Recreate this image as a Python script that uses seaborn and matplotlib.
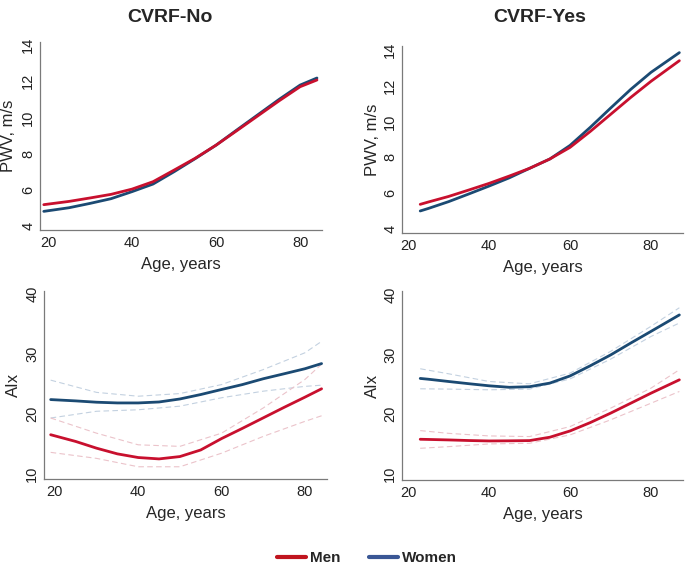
"""PWV and AIx by age, men vs women, split by CVRF status."""

import matplotlib.pyplot as plt
from matplotlib.lines import Line2D
import pandas as pd
import seaborn as sns

# ---- PWV, CVRF-No ----
age_no = [19, 25, 30, 35, 40, 45, 50, 55, 60, 65, 70, 75, 80, 84]
pwv_no_men = [5.18, 5.36, 5.55, 5.75, 6.04, 6.45, 7.09, 7.74, 8.47, 9.28, 10.10, 10.92, 11.70, 12.07]
pwv_no_women = [4.81, 5.01, 5.25, 5.51, 5.90, 6.32, 7.00, 7.72, 8.47, 9.32, 10.16, 11.00, 11.79, 12.18]

# ---- PWV, CVRF-Yes ----
age_yes = [23, 25, 30, 35, 40, 45, 50, 55, 60, 65, 70, 75, 80, 87]
pwv_yes_men = [5.38, 5.51, 5.82, 6.18, 6.55, 6.96, 7.39, 7.91, 8.56, 9.45, 10.40, 11.35, 12.25, 13.40]
pwv_yes_women = [5.01, 5.15, 5.53, 5.96, 6.40, 6.86, 7.39, 7.91, 8.67, 9.68, 10.75, 11.80, 12.75, 13.85]

# ---- AIx, CVRF-No ----
aix_no_men = [16.54, 15.42, 14.30, 13.35, 12.74, 12.51, 12.90, 14.00, 15.90, 17.60, 19.35, 21.10, 22.80, 24.20]
aix_no_women = [22.40, 22.18, 21.96, 21.84, 21.84, 22.00, 22.50, 23.24, 24.08, 24.90, 25.87, 26.70, 27.54, 28.40]
ci_age_no = [19, 30, 40, 50, 60, 70, 80, 84]
aix_no_men_hi = [19.33, 16.8, 14.86, 14.6, 16.8, 21.0, 25.75, 28.3]
aix_no_men_lo = [13.6, 12.6, 11.2, 11.2, 13.46, 16.26, 18.77, 19.7]
aix_no_women_hi = [25.64, 23.6, 22.96, 23.4, 24.9, 27.4, 30.2, 32.1]
aix_no_women_lo = [19.33, 20.45, 20.7, 21.3, 22.7, 23.8, 24.6, 24.8]

# ---- AIx, CVRF-Yes ----
aix_yes_men = [15.81, 15.78, 15.70, 15.60, 15.53, 15.55, 15.59, 16.15, 17.20, 18.60, 20.17, 21.84, 23.52, 25.75]
aix_yes_women = [25.98, 25.85, 25.47, 25.10, 24.75, 24.50, 24.60, 25.20, 26.40, 28.10, 29.90, 31.90, 33.85, 36.60]
ci_age_yes = [23, 30, 40, 50, 60, 70, 80, 87]
aix_yes_men_hi = [17.26, 16.8, 16.37, 16.26, 17.93, 21.0, 24.36, 27.43]
aix_yes_men_lo = [14.3, 14.58, 15.03, 15.14, 16.54, 19.05, 21.84, 23.8]
aix_yes_women_hi = [27.6, 26.76, 25.47, 25.08, 26.87, 30.5, 34.7, 37.8]
aix_yes_women_lo = [24.25, 24.2, 24.08, 24.2, 25.9, 29.2, 33.0, 35.25]

RED = "#c8102e"
BLUE = "#1b4a73"
RED_CI = "#ebc3ca"
BLUE_CI = "#c3d1e0"

sns.set_style("white")
plt.rcParams["font.family"] = ["Liberation Sans", "DejaVu Sans"]

fig = plt.figure(figsize=(6.85, 5.65), dpi=100)
W, H = 685, 565


def add_axes(left, right, top, bottom):
    return fig.add_axes([left / W, 1 - bottom / H, (right - left) / W, (bottom - top) / H])


ax1 = add_axes(40, 322, 42, 230)
ax2 = add_axes(402, 683, 46, 233)
ax3 = add_axes(44, 327, 291, 479)
ax4 = add_axes(402, 683, 291, 480)


def draw(ax, x, y, color, lw=2.0, dashed=False):
    df = pd.DataFrame({"age": x, "val": y})
    sns.lineplot(data=df, x="age", y="val", color=color, linewidth=lw,
                 estimator=None, sort=False, ax=ax,
                 linestyle=(0, (5, 3)) if dashed else "-",
                 solid_joinstyle="round")


# CI dashed lines first so main curves sit on top
for ax, xa, series in [
    (ax3, ci_age_no, [(aix_no_women_hi, BLUE_CI), (aix_no_women_lo, BLUE_CI),
                      (aix_no_men_hi, RED_CI), (aix_no_men_lo, RED_CI)]),
    (ax4, ci_age_yes, [(aix_yes_women_hi, BLUE_CI), (aix_yes_women_lo, BLUE_CI),
                       (aix_yes_men_hi, RED_CI), (aix_yes_men_lo, RED_CI)]),
]:
    for vals, c in series:
        draw(ax, xa, vals, c, lw=0.8, dashed=True)

draw(ax1, age_no, pwv_no_women, BLUE)
draw(ax1, age_no, pwv_no_men, RED)
draw(ax2, age_yes, pwv_yes_women, BLUE)
draw(ax2, age_yes, pwv_yes_men, RED)
draw(ax3, age_no, aix_no_women, BLUE)
draw(ax3, age_no, aix_no_men, RED)
draw(ax4, age_yes, aix_yes_women, BLUE)
draw(ax4, age_yes, aix_yes_men, RED)

ax1.set_xlim(18.1, 85.2)
ax1.set_ylim(3.78, 14.17)
ax2.set_xlim(18.5, 87.9)
ax2.set_ylim(3.78, 14.22)
ax3.set_xlim(17.4, 85.3)
ax3.set_ylim(9.16, 40.5)
ax4.set_xlim(18.5, 87.9)
ax4.set_ylim(9.0, 40.6)

for ax in (ax1, ax2):
    ax.set_yticks([4, 6, 8, 10, 12, 14])
    ax.set_ylabel("PWV, m/s", fontsize=12)
for ax in (ax3, ax4):
    ax.set_yticks([10, 20, 30, 40])
    ax.set_ylabel("AIx", fontsize=12)

for ax in (ax1, ax2, ax3, ax4):
    ax.set_xticks([20, 40, 60, 80])
    ax.set_xlabel("Age, years", fontsize=12, labelpad=5)
    for s in ("top", "right"):
        ax.spines[s].set_visible(False)
    for s in ("left", "bottom"):
        ax.spines[s].set_color("#7a7a7a")
        ax.spines[s].set_linewidth(0.9)
    ax.tick_params(axis="both", length=3, width=0.8, color="#7a7a7a",
                   labelsize=10.5, labelcolor="#222222", pad=1.5)
    ax.tick_params(axis="y", labelrotation=90, pad=0.5)
    for lab in ax.get_yticklabels():
        lab.set_va("center")

# y-label placement (axes fraction)
ax1.yaxis.set_label_coords(-0.085, 0.5)
ax2.yaxis.set_label_coords(-0.078, 0.5)
ax3.yaxis.set_label_coords(-0.081, 0.5)
ax4.yaxis.set_label_coords(-0.078, 0.5)

fig.text(170 / W, 1 - 17 / H, "CVRF-No", ha="center", va="center",
         fontsize=14, fontweight="bold")
fig.text(540 / W, 1 - 17 / H, "CVRF-Yes", ha="center", va="center",
         fontsize=14, fontweight="bold")

handles = [Line2D([], [], color="#c0141e", lw=3),
           Line2D([], [], color="#3a5795", lw=3)]
leg = fig.legend(handles, ["Men", "Women"], loc="center", ncol=2,
                 bbox_to_anchor=(367 / W, 1 - 558 / H), frameon=False,
                 handlelength=1.9, handletextpad=0.3, columnspacing=1.8,
                 prop={"weight": "bold", "size": 11})

plt.savefig("out.png", dpi=100)
